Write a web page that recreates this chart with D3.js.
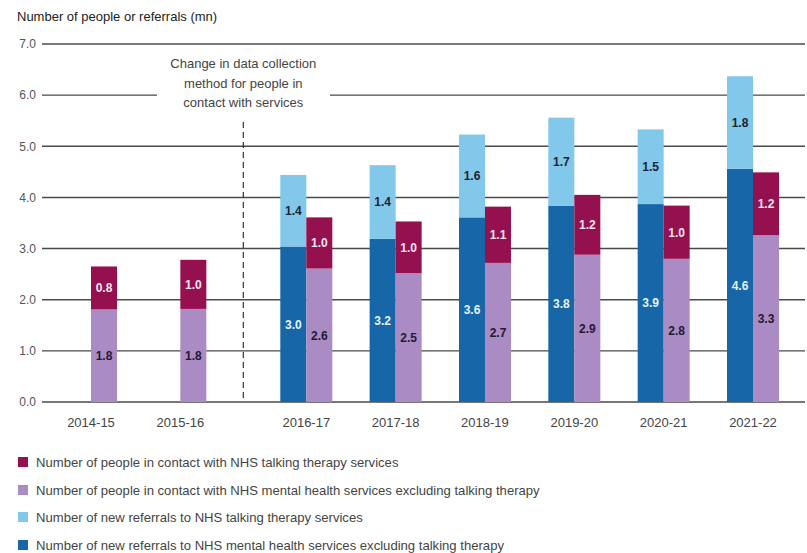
<!DOCTYPE html>
<html>
<head>
<meta charset="utf-8">
<script src="https://cdn.jsdelivr.net/npm/d3@7"></script>
<style>
  html, body { margin: 0; padding: 0; background: #fff; }
  svg { display: block; font-family: "Liberation Sans", Arial, sans-serif; }
</style>
</head>
<body>
<svg id="chart" width="807" height="553"></svg>
<script>
// ---- data ----
const categories = ["2014-15", "2015-16", "2016-17", "2017-18", "2018-19", "2019-20", "2020-21", "2021-22"];
const peopleExclTalking = [1.81, 1.82, 2.61, 2.52, 2.72, 2.88, 2.80, 3.26];
const peopleTalking = [0.84, 0.96, 1.00, 1.01, 1.10, 1.17, 1.04, 1.23];
const referralsExclTalking = [null, null, 3.04, 3.19, 3.61, 3.84, 3.87, 4.56];
const referralsTalking = [null, null, 1.40, 1.44, 1.62, 1.72, 1.46, 1.81];
const yTicks = [0, 1, 2, 3, 4, 5, 6, 7];
const yTitle = "Number of people or referrals (mn)";
const annotation = ["Change in data collection", "method for people in", "contact with services"];
const legendLabels = [
  "Number of people in contact with NHS talking therapy services",
  "Number of people in contact with NHS mental health services excluding talking therapy",
  "Number of new referrals to NHS talking therapy services",
  "Number of new referrals to NHS mental health services excluding talking therapy"
];

const colors = {
  magenta: "#95104f",
  lavender: "#aa8bc3",
  light: "#82c8eb",
  blue: "#1766a8"
};

const svg = d3.select("#chart");

// ---- scales ----
const y = d3.scaleLinear().domain([0, 7]).range([402, 44]);
// positions: two groups separated by a wider gap for the method change
const groupGap = 0.41;
const pos = categories.map((c, i) => i + (i >= 2 ? groupGap : 0));
const x = d3.scaleLinear().domain([0, 7 + groupGap]).range([91, 753]);
const barW = 26;

// ---- gridlines (with a break for annotation on 6.0) ----
const gridG = svg.append("g");
const xLeft = 42, xRight = 805;
yTicks.forEach(t => {
  const yy = y(t);
  if (t === 6) {
    gridG.append("line").attr("x1", xLeft).attr("x2", 157).attr("y1", yy).attr("y2", yy);
    gridG.append("line").attr("x1", 330).attr("x2", xRight).attr("y1", yy).attr("y2", yy);
  } else {
    gridG.append("line").attr("x1", xLeft).attr("x2", xRight).attr("y1", yy).attr("y2", yy);
  }
});
gridG.selectAll("line").attr("stroke", "#4a4a4a").attr("stroke-width", 1.4);

// y-axis tick labels via d3 axis
const yAxis = svg.append("g")
  .attr("transform", "translate(36,0)")
  .call(d3.axisLeft(y).tickValues(yTicks).tickFormat(d3.format(".1f")).tickSize(0).tickPadding(0));
yAxis.select(".domain").remove();
yAxis.selectAll("text").attr("fill", "#555").attr("font-size", 12).attr("font-family", "Liberation Sans, Arial, sans-serif");

// y title
svg.append("text").attr("x", 17).attr("y", 21)
  .attr("font-size", 13).attr("fill", "#222").text(yTitle);

// dashed divider
const divX = (x(pos[1]) + x(pos[2])) / 2;
svg.append("line").attr("x1", divX).attr("x2", divX).attr("y1", 122).attr("y2", y(0))
  .attr("stroke", "#333").attr("stroke-width", 1.2).attr("stroke-dasharray", "6,4");

// annotation
const ann = svg.append("text").attr("text-anchor", "middle").attr("font-size", 13).attr("fill", "#444");
annotation.forEach((line, i) => {
  ann.append("tspan").attr("x", divX).attr("y", 68 + i * 19.5).text(line);
});

// ---- bars ----
const data = categories.map((c, i) => ({
  cat: c, i,
  pe: peopleExclTalking[i], pt: peopleTalking[i],
  re: referralsExclTalking[i], rt: referralsTalking[i]
}));

const barsG = svg.append("g");
function seg(xLeftPx, y0v, y1v, color, labelColor, val) {
  barsG.append("rect")
    .attr("x", xLeftPx).attr("width", barW)
    .attr("y", y(y1v)).attr("height", y(y0v) - y(y1v))
    .attr("fill", color);
  barsG.append("text")
    .attr("x", xLeftPx + barW / 2)
    .attr("y", (y(y0v) + y(y1v)) / 2)
    .attr("dy", "0.36em")
    .attr("text-anchor", "middle")
    .attr("font-size", 12)
    .attr("font-weight", "bold")
    .attr("fill", labelColor)
    .text(d3.format(".1f")(val));
}

data.forEach(d => {
  const cx = x(pos[d.i]);
  // referrals bar (left)
  if (d.re != null) {
    seg(cx - barW, 0, d.re, colors.blue, "#e8f2fb", d.re);
    seg(cx - barW, d.re, d.re + d.rt, colors.light, "#1d2233", d.rt);
  }
  // people bar (right)
  seg(cx, 0, d.pe, colors.lavender, "#221a33", d.pe);
  seg(cx, d.pe, d.pe + d.pt, colors.magenta, "#f3e6ee", d.pt);
});

// x labels
svg.append("g").selectAll("text").data(categories).join("text")
  .attr("x", (c, i) => x(pos[i]))
  .attr("y", 427)
  .attr("text-anchor", "middle")
  .attr("font-size", 13)
  .attr("fill", "#444")
  .text(c => c);

// ---- legend ----
const legColors = [colors.magenta, colors.lavender, colors.light, colors.blue];
const legY = [462, 490, 517, 545];
const leg = svg.append("g");
legendLabels.forEach((l, i) => {
  leg.append("rect").attr("x", 18).attr("y", legY[i] - 5).attr("width", 10).attr("height", 10).attr("fill", legColors[i]);
  leg.append("text").attr("x", 36).attr("y", legY[i]).attr("dy", "0.36em")
    .attr("font-size", 13.1).attr("fill", "#444").text(l);
});
</script>
</body>
</html>
